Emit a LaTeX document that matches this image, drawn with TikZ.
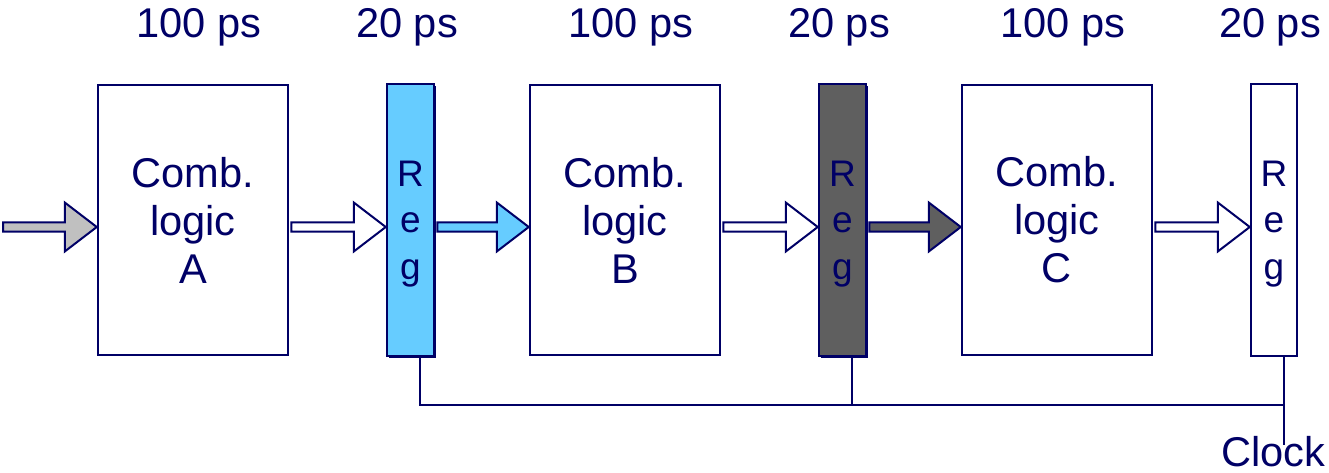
\documentclass[tikz,border=0pt]{standalone}
\usepackage{fontspec}
\setmainfont{Liberation Sans}
\usetikzlibrary{positioning, calc, shadows}

\definecolor{navy}{HTML}{000066}
\definecolor{regblue}{HTML}{66CCFF}
\definecolor{reggray}{HTML}{5F5F5F}
\definecolor{ingray}{HTML}{C0C0C0}

% hollow block arrow from #1 to #2, filled with #3
\newcommand{\bigarrow}[3]{%
  \filldraw[barrow, fill=#3] ($(#1)+(2,2.3)$) -- ($(#2)+(-32,2.3)$) -- ($(#2)+(-32,-17.5)$)
    -- ($(#2)+(0,7)$) -- ($(#2)+(-32,31.5)$) -- ($(#2)+(-32,11.7)$) -- ($(#1)+(2,11.7)$) -- cycle;}

\begin{document}
\begin{tikzpicture}[
x=1pt, y=-1pt,
font=\fontsize{41.6}{48}\selectfont, text=navy,
comb/.style={rectangle, draw=navy, line width=2.5pt, fill=white, align=center, minimum width=190pt, minimum height=270pt, inner sep=0pt},
reg/.style={rectangle, draw=navy, line width=2.5pt, align=center, minimum width=47pt, minimum height=272pt, inner sep=0pt, text depth=0pt, font=\fontsize{37}{46.5}\selectfont},
regshadow/.style={drop shadow={shadow xshift=2pt, shadow yshift=-2pt, fill=navy, opacity=1}},
barrow/.style={draw=navy, line width=2pt, miter limit=10},
wire/.style={draw=navy, line width=2pt},
lbl/.style={anchor=base, inner sep=0pt}
]
\useasboundingbox (0,0) rectangle (1329,472);

\node[comb] (A) at (193,220) {Comb.\\logic\\A};
\node[reg, fill=regblue, regshadow, right=96.5pt of A] (r1) {R\\e\\g};
\node[comb, right=93.5pt of r1] (B) {Comb.\\logic\\B};
\node[reg, fill=reggray, regshadow, right=96.5pt of B] (r2) {R\\e\\g};
\node[comb, right=93.5pt of r2] (C) {Comb.\\logic\\C};
\node[reg, fill=white, right=96.5pt of C, minimum width=46pt] (r3) {R\\e\\g};

% delays
\node[lbl] (tA) at (199,37) {100 ps};
\node[lbl] (t1) at (407,37) {20 ps};
\node[lbl] (tB) at (631,37) {100 ps};
\node[lbl] (t2) at (839,37) {20 ps};
\node[lbl] (tC) at (1063,37) {100 ps};
\node[lbl] (t3) at (1270,37) {20 ps};

% data flow
\coordinate (in) at (1,220);
\bigarrow{in}{A.west}{ingray}
\bigarrow{A.east}{r1.west}{white}
\bigarrow{r1.east}{B.west}{regblue}
\bigarrow{B.east}{r2.west}{white}
\bigarrow{r2.east}{C.west}{reggray}
\bigarrow{C.east}{r3.west}{white}

% clock
\coordinate (bus) at (0,405);
\coordinate (bot) at (0,445);
\path ([xshift=9pt]r1.south) coordinate (k1);
\path ([xshift=9pt]r2.south) coordinate (k2);
\path ([xshift=10pt]r3.south) coordinate (k3);
\draw[wire] (k1) -- (k1 |- bus) -- (k3 |- bus);
\draw[wire] (k2) -- (k2 |- bus);
\draw[wire] (k3) -- (k3 |- bot);
\node[lbl] (clk) at (1273,466) {Clock};
\end{tikzpicture}
\end{document}
